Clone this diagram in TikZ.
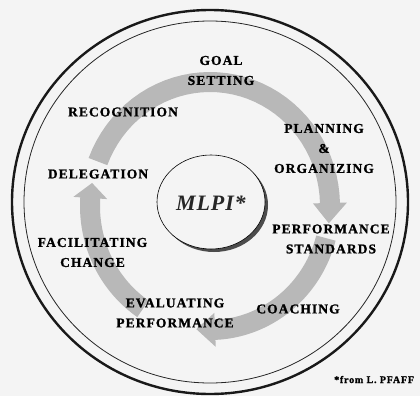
\documentclass[tikz,border=0pt]{standalone}
\usepackage{fontspec}
\setmainfont{Liberation Serif}
\newfontfamily\capsfont{Liberation Serif}[LetterSpace=8, BoldFeatures={FakeBold=1.2}]
\newfontfamily\hubfont{Liberation Serif}[LetterSpace=4]

\definecolor{paper}{gray}{0.955}
\definecolor{band}{gray}{0.72}

% 灰色の帯の矢印: 始点, 矢じりの付け根, 先端 (角度)
\newcommand{\bandarrow}[3]{%
  \fill[band] plot[domain=#1:#2, samples=40] ({210+130*cos(\x)}, {206+134*sin(\x)})
    -- ({210+137*cos(#2)}, {206+141*sin(#2)})
    -- ({210+120*cos(#3)}, {206+124*sin(#3)})
    -- ({210+103*cos(#2)}, {206+107*sin(#2)})
    -- plot[domain=#2:#1, samples=40] ({210+110*cos(\x)}, {206+114*sin(\x)})
    -- cycle;}

\begin{document}
\begin{tikzpicture}[x=1pt, y=-1pt,
    lbl/.style={font=\capsfont\bfseries\fontsize{13.5}{20}\selectfont, align=center, inner sep=0pt}]
    \fill[paper] (0,0) rectangle (420,396);
    \useasboundingbox (0,0) rectangle (420,396);

    % 外枠
    \draw[line width=2.4pt, black!90] (210,202) ellipse [x radius=198, y radius=192];
    \draw[line width=0.8pt, black!85] (210,202) ellipse [x radius=186, y radius=181];

    % サイクルの矢印
    \bandarrow{201}{358.6}{368}
    \bandarrow{15}{87.6}{96.5}
    \bandarrow{124}{183.7}{190.7}

    % 中心
    \fill[black!70] (214,205) ellipse [x radius=54, y radius=47];
    \filldraw[fill=paper, draw=black, line width=0.6pt] (211,202) ellipse [x radius=54, y radius=47];
    \node[inner sep=0pt, font=\hubfont\bfseries\itshape\fontsize{22}{24}\selectfont, black!85] (hub) at (211,203) {MLPI*};

    \node[lbl] (goal) at (221,70.5) {GOAL\\SETTING};
    \node[lbl] (plan) at (324,148.5) {PLANNING\\\&\\ORGANIZING};
    \node[lbl] (std) at (331,239) {PERFORMANCE\\STANDARDS};
    \node[lbl] (coach) at (298,309) {COACHING};
    \node[lbl] (eval) at (175,313) {EVALUATING\\PERFORMANCE};
    \node[lbl] (change) at (92.5,252.5) {FACILITATING\\CHANGE};
    \node[lbl] (deleg) at (98,174) {DELEGATION};
    \node[lbl] (recog) at (123,112) {RECOGNITION};

    \node[anchor=base west, inner sep=0pt, font=\capsfont\bfseries\fontsize{10}{12}\selectfont] (src) at (334,383) {*from L. PFAFF};
\end{tikzpicture}
\end{document}
